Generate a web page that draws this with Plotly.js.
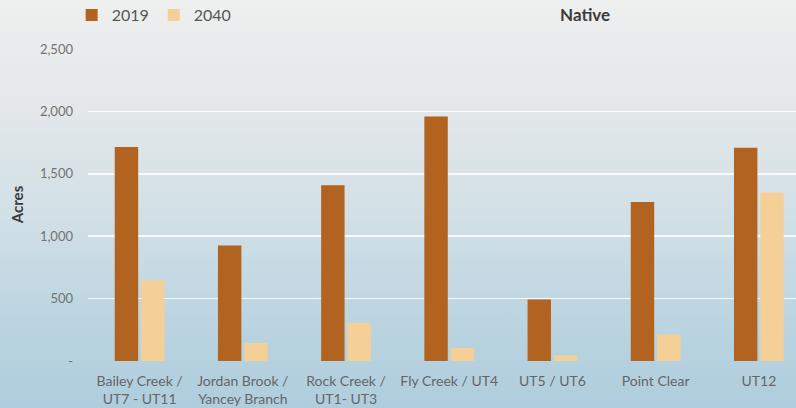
<!DOCTYPE html>
<html>
<head>
<meta charset="utf-8">
<script src="https://cdn.plot.ly/plotly-3.0.1.min.js"></script>
<style>
  html, body { margin: 0; padding: 0; }
  body { width: 796px; height: 408px; overflow: hidden;
    background: linear-gradient(to bottom, #eeefef 0%, #e4e8ea 25%, #d0dfe6 55%, #bad4e0 80%, #afcddd 100%); }
  #chart { width: 796px; height: 408px; }
</style>
</head>
<body>
<div id="chart"></div>
<script>
const categories = [
  "Bailey Creek /<br>UT7 - UT11",
  "Jordan Brook /<br>Yancey Branch",
  "Rock Creek /<br>UT1- UT3",
  "Fly Creek / UT4",
  "UT5 / UT6",
  "Point Clear",
  "UT12"
];
const values2019 = [1715, 925, 1408, 1960, 493, 1275, 1708];
const values2040 = [648, 144, 305, 105, 45, 212, 1350];
const tickValues = [0, 500, 1000, 1500, 2000, 2500];
const tickLabels = ["-", "500", "1,000", "1,500", "2,000", "2,500"];

const font = "Lato, 'Open Sans', sans-serif";

const traces = [
  { type: "bar", name: "2019", x: categories, y: values2019,
    marker: { color: "#b2631f" }, hoverinfo: "y" },
  { type: "bar", name: "2040", x: categories, y: values2040,
    marker: { color: "#f4d097" }, hoverinfo: "y" }
];

const layout = {
  width: 796, height: 408,
  paper_bgcolor: "rgba(0,0,0,0)",
  plot_bgcolor: "rgba(0,0,0,0)",
  margin: { l: 88, r: 0, t: 49, b: 47 },
  barmode: "group",
  bargap: 0.49,
  bargroupgap: 0.11,
  font: { family: font, color: "#5a5a5a", size: 12 },
  title: { text: "<b>Native</b>", x: 0.735, xref: "container", xanchor: "center",
    y: 0.963, yref: "container", yanchor: "middle",
    font: { family: font, size: 17, color: "#3a3a3a" } },
  showlegend: true,
  legend: { orientation: "h", xref: "container", yref: "container",
    x: 0.09, xanchor: "left", y: 0.963, yanchor: "middle",
    bgcolor: "rgba(0,0,0,0)", font: { family: font, size: 16, color: "#555" },
    itemwidth: 30, tracegroupgap: 0 },
  xaxis: { type: "category", range: [-0.5, 6.36], showgrid: false, zeroline: false,
    showline: false, ticks: "", ticklabelstandoff: 10,
    tickfont: { family: font, size: 14, color: "#666" },
    fixedrange: true },
  yaxis: { range: [0, 2500], tickvals: tickValues, ticktext: tickLabels,
    showgrid: true, gridcolor: "rgba(255,255,255,0.85)", gridwidth: 1.5,
    zeroline: false, showline: false, ticks: "", ticklabelstandoff: 14,
    tickfont: { family: font, size: 13, color: "#727272" }, fixedrange: true },
  annotations: [
    { text: "<b>Acres</b>", xref: "paper", yref: "paper", x: -0.1, xanchor: "center",
      y: 0.5, yanchor: "middle", textangle: -90, showarrow: false,
      font: { family: font, size: 15, color: "#3a3a3a" } }
  ]
};

Plotly.newPlot("chart", traces, layout, { displayModeBar: false, staticPlot: true });
</script>
</body>
</html>
